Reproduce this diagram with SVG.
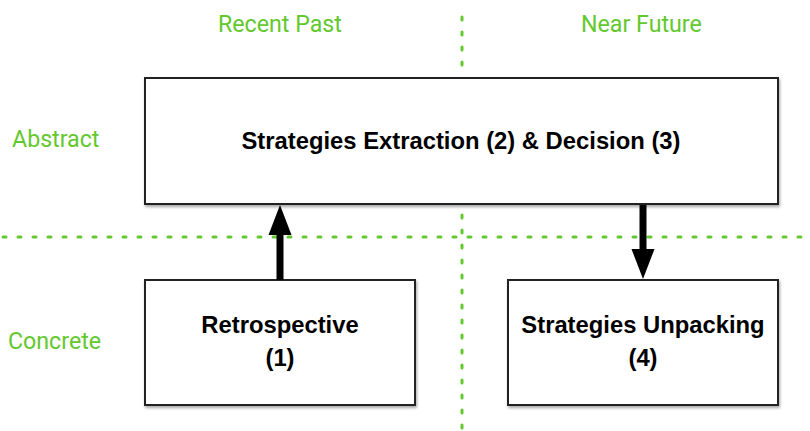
<svg xmlns="http://www.w3.org/2000/svg" width="810" height="431" viewBox="0 0 810 431">
  <defs>
    <filter id="shadow" x="-5%" y="-5%" width="115%" height="120%">
      <feDropShadow dx="1" dy="2" stdDeviation="1.5" flood-color="#000" flood-opacity="0.35"/>
    </filter>
    <style>
      .box { fill: #fff; stroke: #222; stroke-width: 2; filter: url(#shadow); }
      .lbl { font-family: "Liberation Sans", Arial, sans-serif; font-weight: bold; font-size: 23.8px; fill: #000; text-anchor: middle; }
      .axis { font-family: Roboto, "Liberation Sans", sans-serif; font-weight: 400; font-size: 23.2px; fill: #63c82e; }
      .grid { stroke: #63c82e; stroke-width: 3; stroke-linecap: round; stroke-dasharray: 3 12; fill: none; }
      .conn { stroke: #000; stroke-width: 7; fill: none; }
    </style>
  </defs>

  <g id="grid">
    <line class="grid" x1="462" y1="17" x2="462" y2="77"/>
    <line class="grid" x1="462" y1="215" x2="462" y2="431"/>
    <line class="grid" x1="3" y1="237" x2="810" y2="237"/>
  </g>

  <g id="axis-labels">
    <text class="axis" x="218" y="32">Recent Past</text>
    <text class="axis" x="581" y="32">Near Future</text>
    <text class="axis" x="12" y="147">Abstract</text>
    <text class="axis" x="8" y="349">Concrete</text>
  </g>

  <g id="node-extraction">
    <rect class="box" x="145" y="78" width="633" height="126"/>
    <text class="lbl" x="461" y="149">Strategies Extraction (2) &amp; Decision (3)</text>
  </g>

  <g id="node-retrospective">
    <rect class="box" x="145" y="280" width="270" height="125"/>
    <text class="lbl" x="280" y="333">Retrospective</text>
    <text class="lbl" x="280" y="366">(1)</text>
  </g>

  <g id="node-unpacking">
    <rect class="box" x="508" y="280" width="270" height="125"/>
    <text class="lbl" x="643" y="333">Strategies Unpacking</text>
    <text class="lbl" x="643" y="366">(4)</text>
  </g>

  <g id="connectors">
    <line class="conn" x1="280" y1="280" x2="280" y2="235"/>
    <path d="M268.5,235 L280,205 L291.5,235 Z" fill="#000"/>
    <line class="conn" x1="643" y1="205" x2="643" y2="249"/>
    <path d="M631.5,249 L643,279 L654.5,249 Z" fill="#000"/>
  </g>
</svg>
